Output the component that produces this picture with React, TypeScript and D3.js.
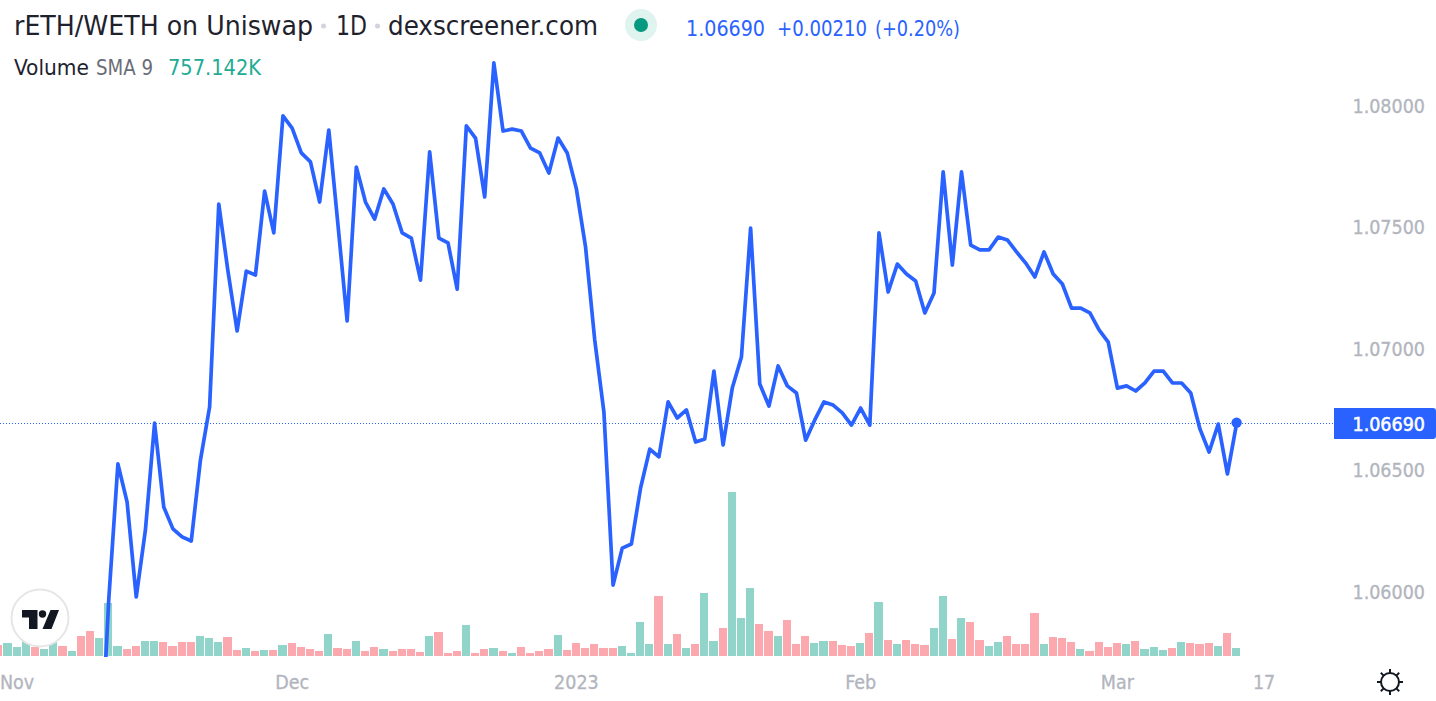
import React from "react";
import * as d3 from "d3";

const firstDay = "2022-10-30";
const prices: (number | null)[] = [
  null, null, null, null, null, null, null, null, null, null, null,
  1.05216, 1.05965, 1.06524, 1.06368, 1.05977, 1.06252, 1.06692, 1.06347, 1.06257, 1.06224, 1.06207,
  1.0654, 1.06758, 1.07593, 1.07317, 1.07071, 1.07317, 1.07301, 1.07646, 1.07474, 1.07955, 1.07905,
  1.07803, 1.07766, 1.07601, 1.07897, 1.07507, 1.07112, 1.07745, 1.07601, 1.07531, 1.07655, 1.07593,
  1.07474, 1.07453, 1.0728, 1.07807, 1.07453, 1.07433, 1.07243, 1.07914, 1.07864, 1.07622, 1.08173,
  1.07893, 1.07901, 1.07893, 1.07823, 1.07803, 1.0772, 1.07864, 1.07803, 1.07655, 1.07416, 1.07034,
  1.06738, 1.06026, 1.06178, 1.06195, 1.06425, 1.06585, 1.06553, 1.06779, 1.06713, 1.06746, 1.06614,
  1.06627, 1.06906, 1.06602, 1.06836, 1.06964, 1.07494, 1.06853, 1.06762, 1.06927, 1.06845, 1.06816,
  1.06622, 1.06705, 1.06779, 1.06766, 1.06734, 1.06684, 1.06754, 1.06684, 1.07474, 1.07231, 1.07346,
  1.07305, 1.07276, 1.07145, 1.07227, 1.07725, 1.07342, 1.07725, 1.07424, 1.07404, 1.07404, 1.07457,
  1.07445, 1.07396, 1.0735, 1.07293, 1.07396, 1.07305, 1.07264, 1.07165, 1.07165, 1.07145, 1.07075,
  1.07025, 1.06836, 1.06845, 1.06824, 1.06857, 1.06906, 1.06906, 1.06857, 1.06857, 1.06816, 1.06668,
  1.06573, 1.06688, 1.06483, 1.0669,
];
const volumesK = [
  825, 975, 675, 1200, 675, 525, 1125, 750, 375, 1500, 1875, 1350, 3975, 750, 525, 750, 1125, 1125, 1050, 750,
  1050, 1050, 1500, 1350, 1050, 1425, 450, 600, 375, 450, 450, 825, 975, 675, 525, 375, 1650, 600, 525, 1125,
  375, 675, 525, 375, 525, 525, 300, 1500, 1800, 225, 375, 2325, 225, 525, 600, 375, 225, 675, 225, 375,
  525, 1575, 450, 975, 600, 900, 600, 600, 750, 225, 2550, 900, 4500, 900, 1650, 600, 900, 4725, 1125, 2100,
  12300, 2850, 5100, 2400, 1875, 1500, 2700, 900, 1500, 975, 1125, 1125, 825, 750, 975, 1725, 4050, 1200, 900, 1200,
  900, 825, 2100, 4500, 1275, 2850, 2550, 1200, 750, 1050, 1500, 900, 900, 3225, 900, 1425, 1350, 1050, 525, 375,
  1050, 675, 975, 900, 1125, 525, 675, 450, 600, 1050, 975, 900, 975, 750, 1725, 600,
];
const volumeUp = [
  0, 1, 1, 1, 0, 1, 1, 0, 1, 0, 0, 1, 1, 1, 0, 0, 1, 1, 0, 0,
  0, 0, 1, 1, 1, 0, 0, 1, 0, 1, 0, 1, 0, 0, 0, 0, 1, 0, 0, 1,
  0, 0, 1, 0, 0, 0, 0, 1, 0, 0, 0, 1, 0, 0, 1, 0, 1, 0, 0, 0,
  0, 1, 0, 0, 0, 0, 0, 0, 1, 1, 1, 1, 0, 1, 0, 1, 0, 1, 1, 0,
  1, 1, 1, 0, 0, 1, 0, 0, 0, 1, 1, 0, 0, 0, 1, 0, 1, 0, 1, 0,
  0, 0, 1, 1, 0, 1, 0, 0, 1, 1, 0, 0, 0, 0, 1, 0, 0, 0, 1, 0,
  0, 0, 0, 1, 0, 1, 1, 1, 0, 1, 0, 0, 0, 1, 0, 1,
];
const priceTicks = [1.08, 1.075, 1.07, 1.065, 1.06];
const timeTicks: [string, string][] = [
  ["2022-11-01", "Nov"],
  ["2022-12-01", "Dec"],
  ["2023-01-01", "2023"],
  ["2023-02-01", "Feb"],
  ["2023-03-01", "Mar"],
  ["2023-03-17", "17"],
];
const lastPrice = 1.0669;

const FONT = "'DejaVu Sans Condensed', 'DejaVu Sans', sans-serif";
const BLUE = "#2962ff";
const AXIS = "#b2b5be";

export default function App() {
  const n = prices.length;
  const x = d3.scaleLinear().domain([0, n - 1]).range([-1.3, 1236.6]);
  const step = x(1) - x(0);
  const y = d3.scaleLinear().domain([1.08, 1.06]).range([105, 591.4]);
  const vh = d3.scaleLinear().domain([0, d3.max(volumesK) as number]).range([656, 492]);
  const start = new Date(firstDay + "T00:00:00Z");
  const dayIndex = (s: string) => d3.utcDay.count(start, new Date(s + "T00:00:00Z"));
  const line = d3
    .line<number | null>()
    .defined((d) => d !== null)
    .x((_, i) => x(i))
    .y((d) => y(d as number));
  const left = (i: number) => Math.round(x(i) - step / 2 + 0.1);
  const last = n - 1;
  const ly = Math.floor(y(lastPrice)) + 0.5;

  return (
    <svg
      width={1436}
      height={701}
      style={{
        position: "fixed",
        left: 0,
        top: 0,
        display: "block",
        background: "#fff",
        fontFamily: FONT,
        fontStretch: "condensed",
      }}
    >
      <defs>
        <clipPath id="pane">
          <rect x={0} y={0} width={1334} height={657} />
        </clipPath>
      </defs>

      <g clipPath="url(#pane)">
        {volumesK.map((v, i) => (
          <rect
            key={i}
            x={left(i)}
            y={Math.round(vh(v))}
            width={left(i + 1) - left(i) - 1}
            height={656 - Math.round(vh(v))}
            fill={volumeUp[i] ? "#91d5ca" : "#fba9af"}
          />
        ))}
      </g>

      {/* logo */}
      <circle cx={40} cy={618} r={28.5} fill="#fff" stroke="#e6e6e6" strokeWidth={2} />
      <path d="M22 610h15.5v19h-8.500v-11.500h-7z M50.500 610h8.500l-7.500 19h-9z" fill="#131722" />
      <circle cx={42.500} cy={614} r={3.700} fill="#131722" />

      <line x1={0} x2={1334} y1={ly} y2={ly} stroke={BLUE} strokeWidth={1} strokeDasharray="1 2" />

      <g clipPath="url(#pane)">
        <path
          d={line(prices) as string}
          fill="none"
          stroke={BLUE}
          strokeWidth={3.7}
          strokeLinejoin="round"
          strokeLinecap="round"
        />
        <circle cx={x(last)} cy={y(lastPrice) - 1} r={5.2} fill={BLUE} />
      </g>

      {/* legend */}
      <g fontSize={26} fill="#1e222d">
        <text x={14} y={35} textLength={299} lengthAdjust="spacingAndGlyphs">rETH/WETH on Uniswap</text>
        <text x={336} y={35} textLength={31} lengthAdjust="spacingAndGlyphs">1D</text>
        <text x={388} y={35} textLength={210} lengthAdjust="spacingAndGlyphs">dexscreener.com</text>
      </g>
      <circle cx={323.500} cy={26} r={2.500} fill="#d1d4dc" />
      <circle cx={377.500} cy={26} r={2.500} fill="#d1d4dc" />
      <circle cx={641} cy={25} r={16} fill="#dff3ef" />
      <circle cx={641} cy={25} r={7} fill="#089981" />
      <g fontSize={21} fill={BLUE}>
        <text x={686} y={36} textLength={79} lengthAdjust="spacingAndGlyphs">1.06690</text>
        <text x={777} y={36} textLength={90} lengthAdjust="spacingAndGlyphs">+0.00210</text>
        <text x={875} y={36} textLength={85} lengthAdjust="spacingAndGlyphs">(+0.20%)</text>
      </g>
      <g fontSize={20.500}>
        <text x={14} y={75} fill="#1e222d" textLength={75} lengthAdjust="spacingAndGlyphs">Volume</text>
        <text x={96} y={75} fill="#6a6d78" textLength={57} lengthAdjust="spacingAndGlyphs">SMA 9</text>
        <text x={168} y={75} fill="#22ab94" textLength={93} lengthAdjust="spacingAndGlyphs">757.142K</text>
      </g>

      {/* price axis */}
      {priceTicks.map((t) => (
        <text
          key={t}
          x={1425}
          y={y(t) + 7.5}
          fontSize={19.500}
          textAnchor="end"
          fill={AXIS}
          stroke={AXIS}
          strokeWidth={0.3}
        >
          {t.toFixed(5)}
        </text>
      ))}
      <path d="M1334 408H1433a3 3 0 0 1 3 3V436a3 3 0 0 1 -3 3H1334z" fill={BLUE} />
      <text x={1425} y={431} fontSize={19.500} textAnchor="end" fill="#fff" stroke="#fff" strokeWidth={0.5}>
        {lastPrice.toFixed(5)}
      </text>

      {/* time axis */}
      {timeTicks.map(([d, label]) => (
        <text
          key={label}
          x={x(dayIndex(d))}
          y={688.500}
          fontSize={19.500}
          textAnchor="middle"
          fill={AXIS}
          stroke={AXIS}
          strokeWidth={0.3}
        >
          {label}
        </text>
      ))}

      {/* settings */}
      <g stroke="#131722" fill="none" strokeWidth={2}>
        <circle cx={1390} cy={682} r={9} />
        {d3.range(8).map((k) => {
          const a = (k * Math.PI) / 4;
          return (
            <line
              key={k}
              x1={1390 + Math.cos(a) * 9}
              y1={682 + Math.sin(a) * 9}
              x2={1390 + Math.cos(a) * 13}
              y2={682 + Math.sin(a) * 13}
            />
          );
        })}
      </g>
    </svg>
  );
}
